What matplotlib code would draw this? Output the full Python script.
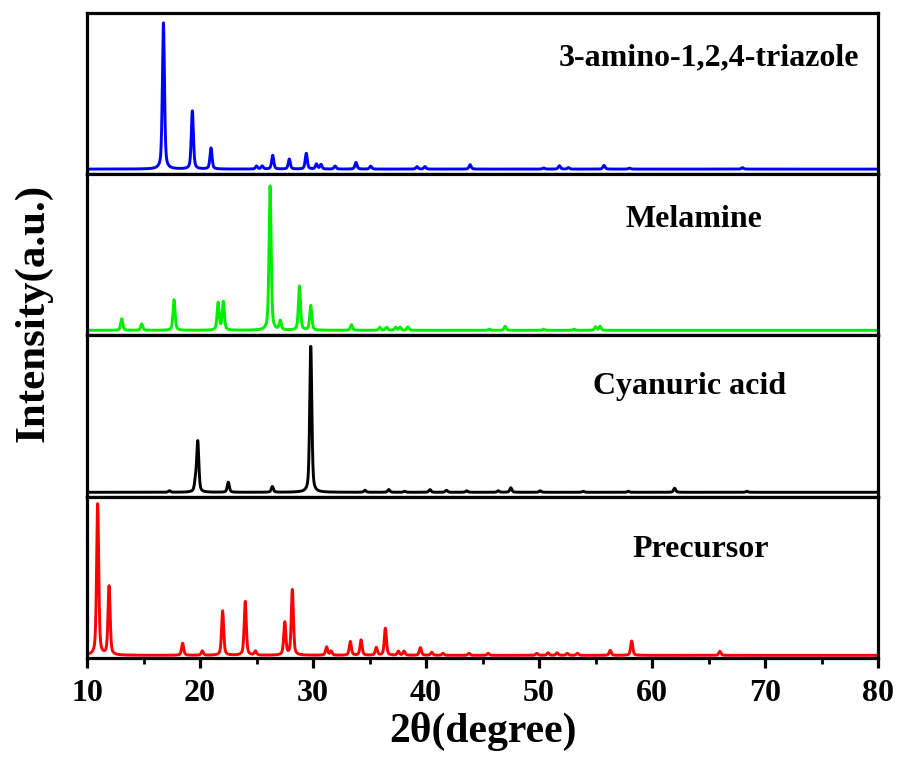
import numpy as np
import matplotlib
matplotlib.use("Agg")
import matplotlib.pyplot as plt
from matplotlib.ticker import MultipleLocator

plt.rcParams["font.family"] = ["Liberation Serif", "DejaVu Serif"]
plt.rcParams["font.weight"] = "bold"

# peak tables: 2theta (deg), height (arb.)
triazole_pos = [16.76, 19.32, 20.97, 25.0, 25.5, 26.43, 27.9, 29.4, 30.3, 30.7,
                31.95, 33.8, 35.1, 39.2, 39.9, 43.9, 50.4, 51.8, 52.6, 55.75, 58.0, 68.0]
triazole_int = [146, 58, 21, 3, 3, 13.7, 10, 15.7, 5, 4.5,
                3, 6.7, 3, 2.5, 2.5, 4.4, 1.2, 3.4, 1.5, 3.7, 1.0, 1.5]

melamine_pos = [13.07, 14.84, 17.7, 21.6, 22.06, 26.2, 27.1, 28.8, 29.8, 33.4,
                35.9, 36.5, 37.3, 37.7, 38.4, 45.6, 47.0, 50.4, 53.1, 55.0, 55.4]
melamine_int = [11.6, 6.3, 30.6, 27.3, 28.3, 144, 9, 44, 24.6, 5.6,
                3, 3, 3, 3, 3.5, 1.2, 4, 1.2, 1.2, 3.5, 4]

cyanuric_pos = [17.3, 19.6, 19.8, 22.5, 26.4, 29.8, 34.6, 36.7, 38.1, 40.35,
                41.8, 43.6, 46.4, 47.5, 50.1, 53.9, 57.9, 62.0, 68.4]
cyanuric_int = [1.5, 9.7, 50, 10, 5.7, 145.7, 2, 2.7, 1, 2.7,
                2, 1.5, 1.5, 4.5, 1.5, 1, 1, 4, 1]

precursor_pos = [10.94, 11.95, 18.46, 20.2, 22.0, 24.0, 24.9, 27.5, 28.17, 31.2,
                 31.6, 33.3, 34.25, 35.6, 36.4, 37.55, 38.05, 39.5, 40.5, 41.5,
                 43.8, 45.5, 49.8, 50.8, 51.6, 52.5, 53.4, 56.3, 58.2, 66.0]
precursor_int = [151, 68.7, 12, 4.3, 44.3, 53.7, 4, 32.7, 65.3, 8.3,
                 4, 13.7, 15.3, 7.7, 27, 4, 4, 7.7, 3, 2,
                 2, 2, 2, 2.5, 2.5, 2, 2, 5, 14.3, 4]

labels = ["3-amino-1,2,4-triazole", "Melamine", "Cyanuric acid", "Precursor"]
colors = ["#0000FF", "#00EE00", "#000000", "#FF0000"]
peaks = [(triazole_pos, triazole_int), (melamine_pos, melamine_int),
         (cyanuric_pos, cyanuric_int), (precursor_pos, precursor_int)]
label_xy = [(0.786, 0.72), (0.767, 0.72), (0.762, 0.68), (0.776, 0.67)]
baseline_off = [5, 5, 4.3, 2.5]


def profile(x, pos, inten, fwhm=0.22, eta=0.5):
    """pseudo-Voigt sum over the peak table"""
    y = np.zeros_like(x)
    for p, h in zip(pos, inten):
        d = (x - p) / (fwhm / 2)
        y += h * (eta / (1 + d**2) + (1 - eta) * np.exp(-np.log(2) * d**2))
    return y


two_theta = np.linspace(10, 80, 7001)

fig, axes = plt.subplots(4, 1, figsize=(9.01, 7.57), dpi=100, sharex=True)
fig.subplots_adjust(left=0.0966, right=0.9745, top=0.983, bottom=0.131, hspace=0)

for ax, (pos, inten), c, lab, (tx, ty), b in zip(axes, peaks, colors, labels,
                                                  label_xy, baseline_off):
    ax.plot(two_theta, profile(two_theta, pos, inten), color=c, lw=2.1)
    ax.set_ylim(-b, 161 - b)
    ax.set_xlim(10, 80)
    ax.set_yticks([])
    for s in ax.spines.values():
        s.set_linewidth(2.3)
    ax.tick_params(axis="x", which="both", bottom=False, labelbottom=False)
    ax.text(tx, ty, lab, transform=ax.transAxes, ha="center", va="center",
            fontsize=23, fontweight="bold")

ax = axes[-1]
ax.xaxis.set_major_locator(MultipleLocator(10))
ax.xaxis.set_minor_locator(MultipleLocator(5))
ax.tick_params(axis="x", which="major", bottom=True, labelbottom=True,
               direction="out", length=7, width=2.3, labelsize=23, pad=8)
ax.tick_params(axis="x", which="minor", bottom=True, direction="out",
               length=4, width=2)
ax.set_xlabel("2θ(degree)", fontsize=30, fontweight="bold", labelpad=3)

fig.text(0.037, 0.586, "Intensity(a.u.)", rotation=90, ha="center", va="center",
         fontsize=31, fontweight="bold")

fig.savefig("out.png", dpi=100)
